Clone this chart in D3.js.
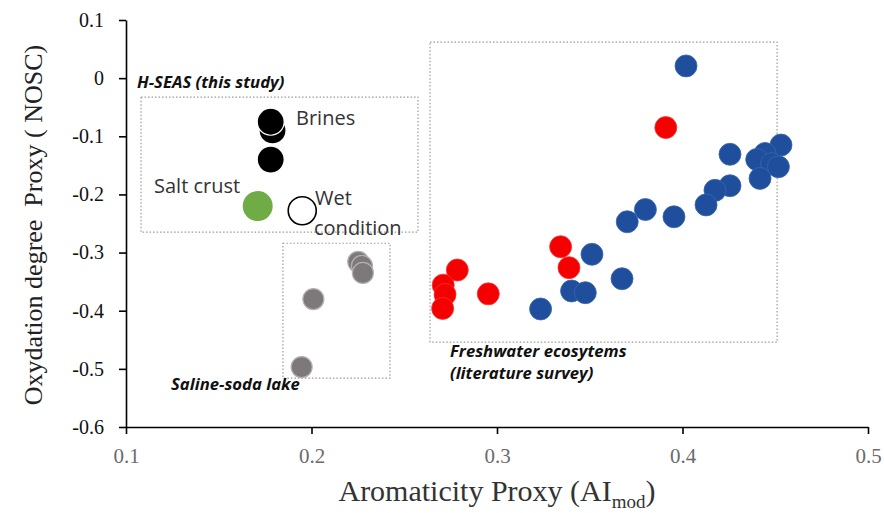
<!DOCTYPE html>
<meta charset="utf-8">
<style>
  body { margin: 0; background: white; }
  .note { font-family: "Open Sans", "Liberation Sans", sans-serif; fill: #333; }
  .boxnote { font-family: "Open Sans", "Liberation Sans", sans-serif; font-weight: bold; font-style: italic; font-size: 16.7px; fill: #111; }
  .zone { fill: none; stroke: #9a9a9a; stroke-width: 1.2; stroke-dasharray: 1.5,2; }
</style>
<body>
<script src="https://d3js.org/d3.v7.min.js"></script>
<script>
  var width = 884, height = 513;

  // H-SEAS (this study)
  var brinesX = [0.178, 0.179, 0.178];
  var brinesY = [-0.075, -0.090, -0.140];
  var saltCrust = [0.171, -0.220];
  var wetCondition = [0.195, -0.228];

  // Saline-soda lake
  var salineX = [0.2252, 0.2272, 0.2277, 0.201, 0.1947];
  var salineY = [-0.316, -0.323, -0.335, -0.380, -0.497];

  // Freshwater ecosystems: red series
  var redX = [0.391, 0.3343, 0.3388, 0.2786, 0.271, 0.272, 0.2707, 0.2953];
  var redY = [-0.085, -0.290, -0.326, -0.330, -0.356, -0.372, -0.396, -0.371];

  // Freshwater ecosystems: blue series
  var blueX = [0.4019, 0.4256, 0.4531, 0.4445, 0.440, 0.448, 0.4517, 0.4418, 0.4256, 0.4175,
               0.4127, 0.3954, 0.380, 0.3702, 0.3512, 0.3674, 0.3402, 0.3476, 0.3235];
  var blueY = [0.021, -0.131, -0.115, -0.1295, -0.140, -0.147, -0.1525, -0.1725, -0.185, -0.193,
               -0.218, -0.2385, -0.226, -0.247, -0.303, -0.345, -0.366, -0.369, -0.397];

  var xTicks = [0.1, 0.2, 0.3, 0.4, 0.5];
  var yTicks = [0.1, 0, -0.1, -0.2, -0.3, -0.4, -0.5, -0.6];

  // dotted zones [x0, x1, y0, y1]
  var zoneHseas = [0.1081, 0.2574, -0.0325, -0.265];
  var zoneFresh = [0.2639, 0.451, 0.0621, -0.454];
  var zoneSaline = [0.1846, 0.2423, -0.284, -0.516];

  var x = d3.scaleLinear().domain([0.1, 0.5]).range([126, 868]);
  var y = d3.scaleLinear().domain([-0.6, 0.1]).range([427, 20]);

  var svg = d3.select("body").append("svg")
              .attr("width", width)
              .attr("height", height);

  // zones
  [zoneHseas, zoneFresh, zoneSaline].forEach(function(z) {
    svg.append("rect")
       .attr("class", "zone")
       .attr("x", x(z[0]))
       .attr("y", y(z[2]))
       .attr("width", x(z[1]) - x(z[0]))
       .attr("height", y(z[3]) - y(z[2]));
  });

  function fmt(d) { return d === 0 ? "0" : d.toFixed(1); }

  // axes
  var xAxis = svg.append("g")
     .attr("transform", "translate(0," + y(-0.6) + ")")
     .call(d3.axisBottom(x).tickValues(xTicks).tickFormat(fmt).tickSize(7).tickSizeOuter(0));
  xAxis.selectAll("text")
     .style("font-family", "'Liberation Serif', serif").style("font-size", "21px")
     .attr("fill", "#6b6b6b").attr("dy", "1.25em");

  var yAxis = svg.append("g")
     .attr("transform", "translate(" + x(0.1) + ",0)")
     .call(d3.axisLeft(y).tickValues(yTicks).tickFormat(fmt).tickSize(7).tickSizeOuter(0));
  yAxis.selectAll("text")
     .style("font-family", "'Liberation Serif', serif").style("font-size", "20px")
     .attr("fill", "#111").attr("dx", "-0.6em");

  svg.selectAll(".domain, .tick line").attr("stroke", "#000").attr("stroke-width", 1.6);

  function dots(xs, ys, r, fill, stroke, sw) {
    svg.append("g").selectAll("circle")
       .data(xs.map(function(v, i) { return [v, ys[i]]; }))
       .enter().append("circle")
       .attr("cx", function(d) { return x(d[0]); })
       .attr("cy", function(d) { return y(d[1]); })
       .attr("r", r)
       .attr("fill", fill)
       .attr("stroke", stroke)
       .attr("stroke-width", sw);
  }

  dots(salineX, salineY, 10.5, "#7d787a", "#b3b0b1", 1.2);
  dots(redX, redY, 11, "#f50000", "#ff3030", 0.8);
  dots(blueX, blueY, 11, "#1f4f9c", "#3a66ad", 0.8);
  dots(brinesX.slice().reverse(), brinesY.slice().reverse(), 13.5, "#000", "#fff", 1.2);
  dots([saltCrust[0]], [saltCrust[1]], 15, "#6fac46", "none", 0);
  dots([wetCondition[0]], [wetCondition[1]], 14, "#fff", "#000", 1.6);

  // annotations
  svg.append("text").attr("class", "boxnote").attr("x", 137).attr("y", 88).text("H-SEAS (this study)");
  svg.append("text").attr("class", "note").attr("font-size", 20).attr("x", 296).attr("y", 125).text("Brines");
  svg.append("text").attr("class", "note").attr("font-size", 20).attr("x", 154).attr("y", 193).text("Salt crust");
  svg.append("text").attr("class", "note").attr("font-size", 20).attr("x", 315).attr("y", 205).text("Wet");
  svg.append("text").attr("class", "note").attr("font-size", 20).attr("x", 314).attr("y", 235).text("condition");
  svg.append("text").attr("class", "boxnote").attr("x", 171).attr("y", 390).text("Saline-soda lake");
  svg.append("text").attr("class", "boxnote").attr("x", 450).attr("y", 357).text("Freshwater ecosytems");
  svg.append("text").attr("class", "boxnote").attr("x", 450).attr("y", 379).text("(literature survey)");

  // axis titles
  var xt = svg.append("text")
     .attr("x", 497).attr("y", 501)
     .attr("text-anchor", "middle")
     .attr("font-family", "Liberation Serif, serif")
     .attr("font-size", 30)
     .attr("fill", "#333");
  xt.append("tspan").text("Aromaticity Proxy (AI");
  xt.append("tspan").attr("font-size", 19).attr("dy", 7).text("mod");
  xt.append("tspan").attr("dy", -7).text(")");

  svg.append("text")
     .attr("transform", "translate(42,225) rotate(-90)")
     .attr("text-anchor", "middle")
     .attr("font-family", "Liberation Serif, serif")
     .attr("font-size", 26)
     .attr("fill", "#222")
     .style("white-space", "pre")
     .text("Oxydation degree  Proxy ( NOSC)");
</script>
</body>
